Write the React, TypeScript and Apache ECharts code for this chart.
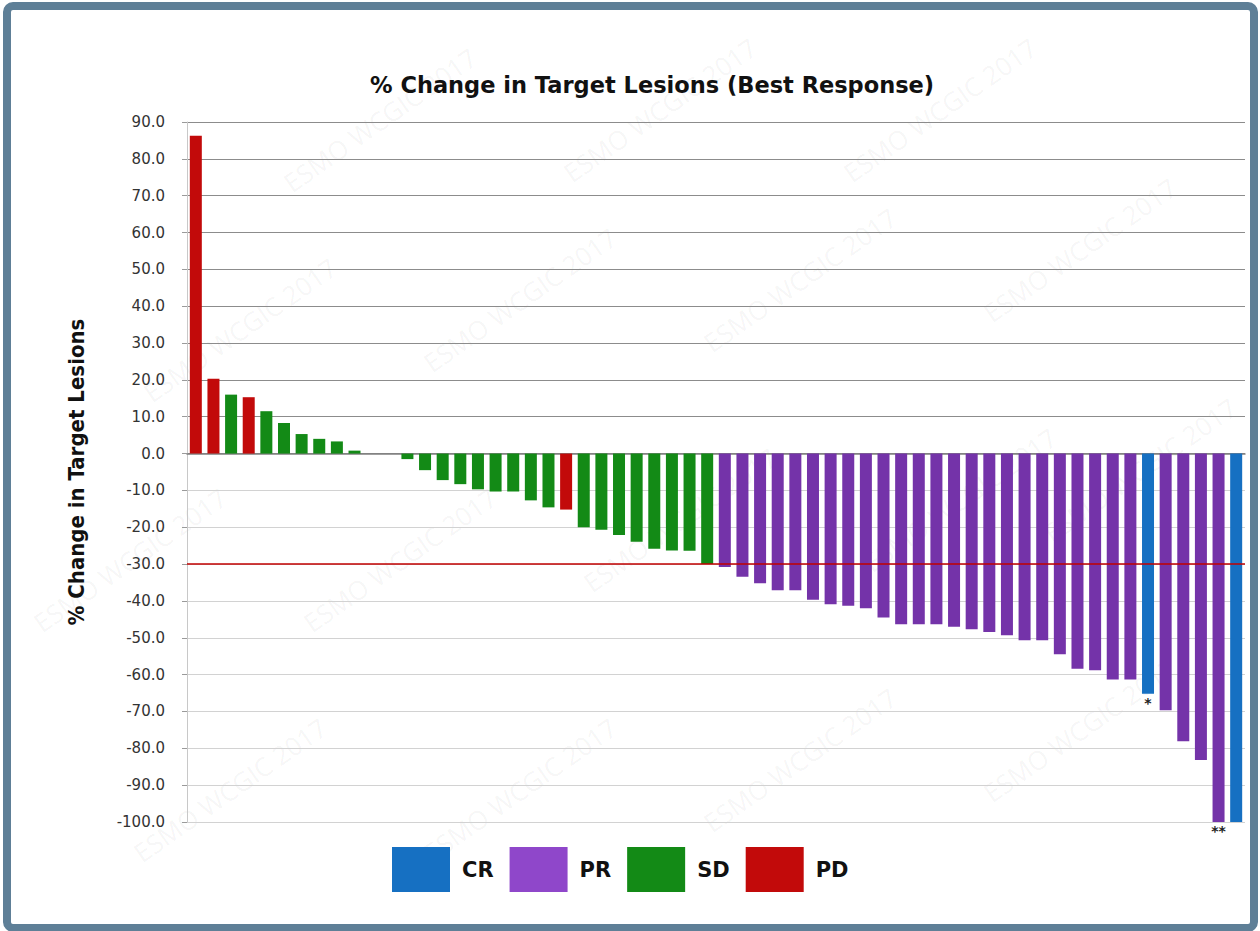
import React, { useEffect, useRef } from "react";
import * as echarts from "echarts";

// ---- Data ----
const patients: string[] = Array.from({ length: 60 }, (_, i) => "P" + (i + 1));

const changePct: number[] = [
  86.3, 20.3, 16.0, 15.3, 11.5, 8.3, 5.3, 4.0, 3.3, 0.8, 0, 0,
  -1.5, -4.5, -7.2, -8.3, -9.7, -10.3, -10.3, -12.7, -14.6, -15.2,
  -20.0, -20.7, -22.1, -23.9, -25.8, -26.3, -26.4, -30.0,
  -30.8, -33.4, -35.2, -37.1, -37.1, -39.7, -40.9, -41.3, -42.0, -44.5,
  -46.3, -46.3, -46.3, -47.0, -47.7, -48.4, -49.3, -50.7, -50.7, -54.5,
  -58.4, -58.8, -61.3, -61.3, -65.2, -69.7, -78.1, -83.2, -100, -100,
];

const response: string[] = [
  "PD", "PD", "SD", "PD", "SD", "SD", "SD", "SD", "SD", "SD", "SD", "SD",
  "SD", "SD", "SD", "SD", "SD", "SD", "SD", "SD", "SD", "PD",
  "SD", "SD", "SD", "SD", "SD", "SD", "SD", "SD",
  "PR", "PR", "PR", "PR", "PR", "PR", "PR", "PR", "PR", "PR",
  "PR", "PR", "PR", "PR", "PR", "PR", "PR", "PR", "PR", "PR",
  "PR", "PR", "PR", "PR", "CR", "PR", "PR", "PR", "PR", "CR",
];

const notes: string[] = [
  "", "", "", "", "", "", "", "", "", "", "", "",
  "", "", "", "", "", "", "", "", "", "",
  "", "", "", "", "", "", "", "",
  "", "", "", "", "", "", "", "", "", "",
  "", "", "", "", "", "", "", "", "", "",
  "", "", "", "", "*", "", "", "", "**", "",
];

const responseNames: string[] = ["CR", "PR", "SD", "PD"];
const thresholdLine: number = -30;

const titleText = "% Change in Target Lesions (Best Response)";
const yAxisName = "% Change in Target Lesions";
const watermark = "ESMO WCGIC 2017";

// ---- Styles ----
const barColors: Record<string, string> = {
  CR: "#1670c2",
  PR: "#7433a9",
  SD: "#138a16",
  PD: "#c20a0a",
};
const legendColors: Record<string, string> = {
  CR: "#1670c2",
  PR: "#8f47ca",
  SD: "#138a16",
  PD: "#c20a0a",
};

const watermarkSpots: [number, number][] = [
  [380, 120], [660, 110], [940, 110],
  [240, 330], [520, 300], [800, 280], [1080, 250],
  [130, 560], [400, 560], [680, 520], [960, 500], [1140, 470],
  [230, 790], [520, 790], [800, 760], [1080, 730],
];

const FONT = "'DejaVu Sans', 'Open Sans', sans-serif";
const FONT_COND = "'DejaVu Sans Condensed', 'DejaVu Sans', 'Open Sans', sans-serif";

export default function App() {
  const ref = useRef<HTMLDivElement>(null);

  useEffect(() => {
    if (!ref.current) return;
    const chart = echarts.init(ref.current, undefined, { renderer: "svg" });

    const series: any[] = responseNames.map((name, si) => ({
      name,
      type: "bar",
      stack: "all",
      barWidth: 12,
      itemStyle: { color: barColors[name] },
      data: changePct.map((v, i) => {
        if (response[i] !== name) return "-";
        if (notes[i]) {
          return {
            value: v,
            label: {
              show: true,
              position: "bottom",
              distance: 2,
              formatter: notes[i],
              fontSize: 14,
              fontWeight: "bold",
              color: "#222",
              fontFamily: FONT,
            },
          };
        }
        return v;
      }),
      markLine:
        si === 0
          ? {
              silent: true,
              symbol: "none",
              label: { show: false },
              lineStyle: { color: "#c00000", width: 1.5, type: "solid" },
              data: [{ yAxis: thresholdLine }],
            }
          : undefined,
    }));

    const gridColors: string[] = [];
    for (let t = -100; t <= 90; t += 10) {
      gridColors.push(t < 0 ? "#d2d2d2" : "#8c8c8c");
    }

    const graphics: any[] = watermarkSpots.map(([x, y]) => ({
      type: "text",
      x,
      y,
      rotation: (35 * Math.PI) / 180,
      silent: true,
      z: -10,
      style: {
        text: watermark,
        fill: "rgba(0,0,0,0.05)",
        font: `26px 'Open Sans', sans-serif`,
        align: "center",
        verticalAlign: "middle",
      },
    }));
    graphics.push({
      type: "rect",
      silent: true,
      z: 100,
      shape: { x: 7, y: 6, width: 1247, height: 922, r: 6 },
      style: { fill: "none", stroke: "#5e7f97", lineWidth: 8 },
    });

    chart.setOption({
      animation: false,
      backgroundColor: "#ffffff",
      title: {
        text: titleText,
        left: 370,
        top: 73,
        padding: 0,
        textStyle: {
          fontSize: 22.5,
          fontWeight: "bold",
          color: "#111",
          fontFamily: FONT,
        },
      },
      legend: {
        left: 392,
        top: 847,
        padding: 0,
        itemWidth: 58,
        itemHeight: 45,
        itemGap: 16,
        icon: "rect",
        selectedMode: false,
        textStyle: {
          fontSize: 21,
          fontWeight: "bold",
          color: "#111",
          fontFamily: FONT,
          padding: [0, 0, 0, 7],
        },
        data: responseNames.map((n) => ({
          name: n,
          itemStyle: { color: legendColors[n] },
        })),
      },
      grid: { left: 187, right: 15, top: 122, bottom: 109 },
      xAxis: {
        type: "category",
        data: patients,
        axisLine: { onZero: true, lineStyle: { color: "#7f7f7f", width: 1.5 } },
        axisTick: { show: false },
        axisLabel: { show: false },
        splitLine: { show: false },
      },
      yAxis: {
        type: "value",
        min: -100,
        max: 90,
        interval: 10,
        name: yAxisName,
        nameLocation: "middle",
        nameGap: 100,
        nameTextStyle: {
          fontSize: 22,
          fontWeight: "bold",
          color: "#111",
          fontFamily: FONT_COND,
        },
        axisLine: { show: true, lineStyle: { color: "#c8c8c8" } },
        axisTick: { show: true, length: 5, lineStyle: { color: "#9a9a9a" } },
        axisLabel: {
          margin: 22,
          fontSize: 15,
          color: "#333",
          fontFamily: FONT,
          formatter: (v: number) => v.toFixed(1),
        },
        splitLine: { show: true, lineStyle: { color: gridColors, width: 1.2 } },
      },
      graphic: graphics,
      series,
    });

    return () => chart.dispose();
  }, []);

  return (
    <div
      ref={ref}
      style={{
        position: "fixed",
        left: 0,
        top: 0,
        width: 1260,
        height: 931,
        background: "#fff",
      }}
    />
  );
}
